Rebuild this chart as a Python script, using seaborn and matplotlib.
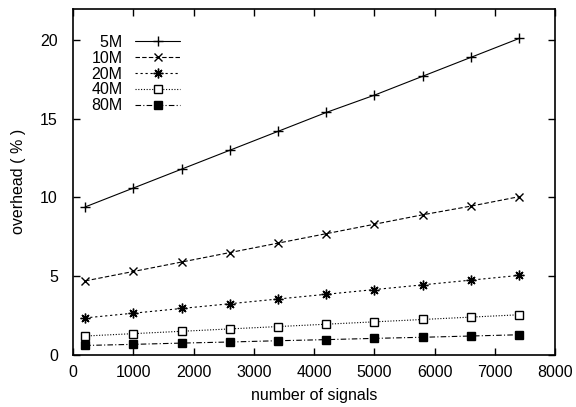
import matplotlib
matplotlib.use('Agg')
import matplotlib.pyplot as plt
import seaborn as sns

# data
signals = [200, 1000, 1800, 2600, 3400, 4200, 5000, 5800, 6600, 7400]
series_names = ['5M', '10M', '20M', '40M', '80M']
overhead_5m = [9.4, 10.6, 11.8, 13.0, 14.2, 15.4, 16.5, 17.7, 18.9, 20.1]
overhead_10m = [4.7, 5.3, 5.9, 6.5, 7.1, 7.7, 8.3, 8.9, 9.45, 10.05]
overhead_20m = [2.35, 2.65, 2.95, 3.25, 3.55, 3.85, 4.15, 4.45, 4.75, 5.05]
overhead_40m = [1.2, 1.35, 1.5, 1.65, 1.8, 1.95, 2.1, 2.25, 2.4, 2.55]
overhead_80m = [0.6, 0.67, 0.75, 0.82, 0.9, 0.97, 1.05, 1.12, 1.2, 1.28]

values = [overhead_5m, overhead_10m, overhead_20m, overhead_40m, overhead_80m]

sns.set_style('ticks')
plt.rcParams['font.family'] = ['Liberation Sans', 'DejaVu Sans']
plt.rcParams['font.size'] = 11.5
plt.rcParams['text.color'] = 'black'
plt.rcParams['axes.labelcolor'] = 'black'
plt.rcParams['xtick.color'] = 'black'
plt.rcParams['ytick.color'] = 'black'

fig = plt.figure(figsize=(5.76, 4.07), dpi=100)
ax = fig.add_axes([0.127, 0.128, 0.837, 0.851])

# gnuplot-like styles: (marker, linestyle, facecolor, markersize)
styles = [
    ('+', '-', 'black', 7),
    ('x', (0, (4, 2)), 'black', 5.5),
    ((8, 2, 0), (0, (2, 2.5)), 'black', 7),
    ('s', (0, (1, 1.5)), 'white', 5.5),
    ('s', (0, (5, 2, 1, 2)), 'black', 5.5),
]

for name, vals, (mk, ls, fc, ms) in zip(series_names, values, styles):
    label = '  ' + name if name == '5M' else name
    sns.lineplot(x=signals, y=vals, color='black', marker=mk, linestyle=ls,
                 markerfacecolor=fc, markeredgecolor='black', markersize=ms,
                 markeredgewidth=1.0, linewidth=0.8, label=label, ax=ax)

ax.set_xlim(0, 8000)
ax.set_ylim(0, 22)
ax.set_xticks(range(0, 8001, 1000))
ax.set_yticks([0, 5, 10, 15, 20])
ax.tick_params(direction='in', top=True, right=True, length=5, width=1, labelsize=11.5)
ax.tick_params(axis='y', pad=11)
ax.tick_params(axis='x', pad=7)
for s in ax.spines.values():
    s.set_linewidth(1.2)
    s.set_color('black')
ax.set_xlabel('number of signals', fontsize=11.5, labelpad=6)
ax.set_ylabel('overhead ( % )', fontsize=11.5, labelpad=10)

ax.legend(loc='upper left', bbox_to_anchor=(0.008, 0.965), frameon=False,
          markerfirst=False, handlelength=2.8, labelspacing=0.05, handletextpad=0.8,
          fontsize=11.5)

plt.savefig('out.png', dpi=100)
